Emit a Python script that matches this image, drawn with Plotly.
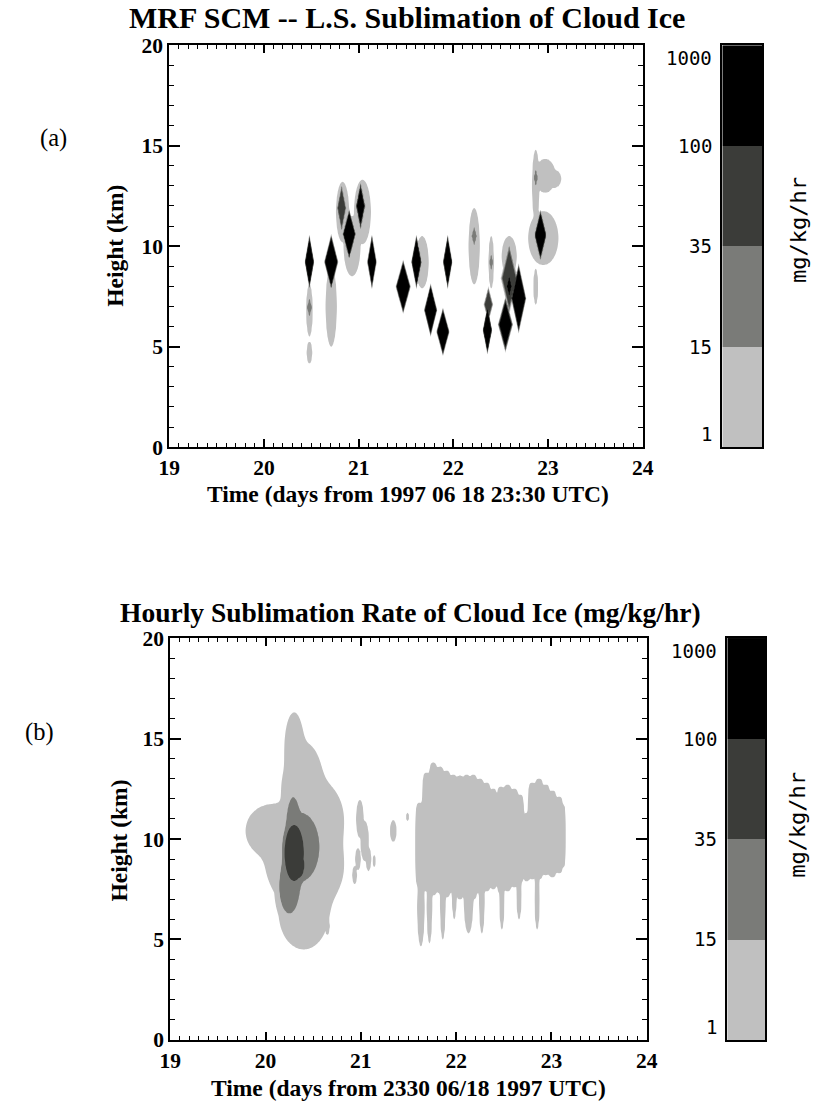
import numpy as np
import plotly.graph_objects as go

# Layout grid: positions below are given on an 816 x 1104 grid; the figure
# sits inside a page of VIEW_W x VIEW_H CSS pixels with the default 8 px margin.
REF_W, REF_H = 816, 1104
VIEW_W, VIEW_H = 834, 1128
PAGE_MARGIN = 8
TOP_SHIFT = 3
W, H = VIEW_W - 2 * PAGE_MARGIN, VIEW_H - 2 * PAGE_MARGIN
KX, KY = VIEW_W / REF_W, VIEW_H / REF_H

# Contour levels of the sublimation rate (mg/kg/hr) and the fill of each band
LEVELS = [1, 15, 35, 100, 1000]
BAND_COLORS = ["#c0c0c0", "#7a7b78", "#3b3c39", "#000000"]

X_TICKS = [19, 20, 21, 22, 23, 24]
Y_TICKS = [0, 5, 10, 15, 20]

# Each cell: (time [day], height [km], half-width [day], half-height [km], peak rate [mg/kg/hr])

# Panel (a): MRF SCM large-scale sublimation cells
CORES_A = [
    (20.48, 9.22, 0.050, 1.35, 1000),
    (20.71, 9.22, 0.075, 1.38, 1000),
    (20.90, 10.60, 0.070, 1.25, 1000),
    (21.02, 12.00, 0.050, 1.20, 300),
    (21.14, 9.22, 0.050, 1.35, 1000),
    (21.47, 7.98, 0.080, 1.35, 1000),
    (21.61, 9.22, 0.055, 1.35, 1000),
    (21.76, 6.82, 0.070, 1.33, 1000),
    (21.89, 5.74, 0.070, 1.20, 1000),
    (21.94, 9.22, 0.050, 1.35, 1000),
    (22.36, 5.82, 0.050, 1.20, 1000),
    (22.55, 6.10, 0.080, 1.40, 300),
    (22.69, 7.40, 0.080, 1.75, 1000),
    (22.92, 10.55, 0.065, 1.25, 1000),
    (20.82, 11.90, 0.050, 1.20, 80),
    (22.37, 7.10, 0.050, 0.90, 60),
    (22.59, 8.40, 0.090, 1.80, 70),
    (22.59, 8.00, 0.030, 0.55, 300),
    (20.48, 6.95, 0.030, 0.50, 30),
    (22.22, 10.50, 0.030, 0.50, 30),
    (22.40, 9.20, 0.020, 0.40, 30),
    (22.87, 13.40, 0.020, 0.45, 30),
]
HALOS_A = [
    (20.48, 6.80, 0.035, 1.30, 8),
    (20.48, 4.70, 0.030, 0.55, 8),
    (20.71, 7.00, 0.060, 2.00, 8),
    (20.83, 11.70, 0.070, 1.50, 8),
    (20.93, 10.00, 0.090, 1.50, 8),
    (21.04, 11.70, 0.090, 1.60, 8),
    (21.67, 9.20, 0.070, 1.30, 8),
    (22.22, 10.00, 0.060, 1.90, 8),
    (22.40, 9.20, 0.030, 1.30, 8),
    (22.59, 9.50, 0.080, 1.00, 8),
    (22.87, 7.98, 0.025, 0.90, 8),
    (22.87, 13.00, 0.040, 1.80, 8),
    (22.97, 13.50, 0.110, 0.85, 8),
    (23.07, 13.35, 0.070, 0.45, 8),
    (22.95, 10.40, 0.160, 1.35, 8),
]

# Panel (b): hourly sublimation rate of cloud ice
EVENT1_B = [
    (20.30, 14.60, 0.10, 1.70, 8),
    (20.40, 13.00, 0.19, 1.80, 8),
    (20.50, 11.00, 0.32, 2.00, 8),
    (20.48, 8.60, 0.34, 2.00, 8),
    (20.40, 6.30, 0.26, 1.80, 8),
    (20.05, 10.40, 0.26, 1.30, 8),
    (20.20, 9.00, 0.20, 1.70, 8),
    (20.28, 12.50, 0.10, 1.00, 8),
]
MID_B = [
    (20.37, 9.60, 0.30, 2.60, 100),
    (20.29, 11.00, 0.09, 1.60, 100),
    (20.25, 7.60, 0.16, 2.00, 100),
]
DARK_B = [
    (20.30, 9.30, 0.13, 1.80, 60),
    (20.35, 8.70, 0.07, 0.80, 60),
]
PATCHES_B = [
    (20.99, 11.00, 0.040, 0.95, 8),
    (21.04, 9.90, 0.045, 1.00, 8),
    (21.08, 9.00, 0.030, 0.60, 8),
    (20.97, 9.00, 0.030, 0.55, 8),
    (20.935, 8.20, 0.025, 0.45, 8),
    (21.14, 8.90, 0.015, 0.30, 8),
    (21.34, 10.40, 0.035, 0.55, 8),
    (21.49, 11.10, 0.015, 0.20, 8),
    (20.65, 5.65, 0.020, 0.40, 8),
]
# hourly columns of the second event
COLUMNS_B = [
    (21.62, 9.70, 0.050, 2.10, 8),
    (21.69, 10.35, 0.050, 2.95, 8),
    (21.76, 10.50, 0.050, 3.30, 8),
    (21.83, 10.45, 0.050, 3.15, 8),
    (21.90, 10.25, 0.050, 3.15, 8),
    (21.97, 10.25, 0.050, 2.95, 8),
    (22.04, 10.08, 0.050, 3.08, 8),
    (22.11, 10.20, 0.050, 3.00, 8),
    (22.18, 10.10, 0.050, 3.10, 8),
    (22.25, 10.15, 0.050, 2.85, 8),
    (22.32, 10.10, 0.050, 2.70, 8),
    (22.39, 10.00, 0.045, 2.50, 8),
    (22.47, 9.95, 0.050, 2.65, 8),
    (22.54, 10.05, 0.050, 2.65, 8),
    (22.61, 10.05, 0.050, 2.45, 8),
    (22.67, 10.00, 0.045, 2.20, 8),
    (22.74, 9.60, 0.040, 1.70, 8),
    (22.80, 10.40, 0.050, 2.40, 8),
    (22.87, 10.50, 0.050, 2.50, 8),
    (22.94, 10.45, 0.050, 2.25, 8),
    (23.01, 10.25, 0.050, 2.15, 8),
    (23.08, 10.20, 0.045, 1.90, 8),
    (23.12, 10.15, 0.030, 1.55, 8),
]
# hanging streaks below the columns
STREAKS_B = [
    (21.63, 6.58, 0.040, 1.93, 8),
    (21.72, 6.65, 0.030, 1.85, 8),
    (21.86, 6.75, 0.030, 1.75, 8),
    (21.98, 7.25, 0.025, 1.25, 8),
    (22.13, 6.90, 0.050, 1.60, 8),
    (22.27, 6.90, 0.030, 1.60, 8),
    (22.48, 7.00, 0.028, 1.50, 8),
    (22.66, 7.25, 0.028, 1.25, 8),
    (22.85, 7.00, 0.028, 1.50, 8),
]

TIME = np.round(np.arange(19.0, 24.0001, 0.01), 3)
HEIGHT = np.round(np.arange(0.0, 20.0001, 0.1), 2)
LOG_LEVELS = np.log10(LEVELS)
LIGHT_CAP = 12.0   # overlapping light cells stay inside the lowest band
MID_CAP = 30.0     # overlapping mid cells stay inside the second band
T_GRID, Z_GRID = np.meshgrid(TIME, HEIGHT)


def cell_rates(cells, shape_exp, profile_exp):
    """Rate of each cell on the grid; a cell falls to 1 mg/kg/hr at its edge."""
    for tc, zc, dt, dz, peak in cells:
        r = ((np.abs(T_GRID - tc) / dt) ** shape_exp
             + (np.abs(Z_GRID - zc) / dz) ** shape_exp) ** (1.0 / shape_exp)
        yield peak ** (1.0 - np.minimum(r, 3.0) ** profile_exp)


def summed(cells, shape_exp, profile_exp):
    return sum(cell_rates(cells, shape_exp, profile_exp))


def maxed(cells, shape_exp, profile_exp):
    return np.maximum.reduce(list(cell_rates(cells, shape_exp, profile_exp)))


def band_index(rate):
    """Map rate onto band numbers: level k of LEVELS -> k (negative below 1)."""
    logv = np.log10(np.maximum(rate, 0.1))
    idx = np.interp(logv, LOG_LEVELS, np.arange(len(LEVELS)))
    return np.round(np.where(logv < 0, logv, idx), 3)


rate_a = np.maximum(np.minimum(summed(HALOS_A, 2.0, 8), LIGHT_CAP), maxed(CORES_A, 1.0, 8))
light_b = (summed(EVENT1_B, 2.0, 2) + summed(PATCHES_B, 2.0, 8)
           + summed(COLUMNS_B, 4.0, 8) + summed(STREAKS_B, 2.0, 8))
rate_b = np.maximum.reduce([np.minimum(light_b, LIGHT_CAP),
                            np.minimum(summed(MID_B, 2.0, 2), MID_CAP),
                            maxed(DARK_B, 2.0, 8)])

field_a = band_index(rate_a)
field_b = band_index(rate_b)

colorscale = [[0.0, "#ffffff"], [0.25, BAND_COLORS[0]], [0.5, BAND_COLORS[1]],
              [0.75, BAND_COLORS[2]], [1.0, BAND_COLORS[3]]]

fig = go.Figure()
for field, xa, ya in [(field_a, "x", "y"), (field_b, "x2", "y2")]:
    fig.add_trace(go.Contour(
        x=TIME, y=HEIGHT, z=field, xaxis=xa, yaxis=ya,
        autocontour=False,
        contours=dict(start=0, end=3, size=1, coloring="fill"),
        line=dict(width=0), colorscale=colorscale, showscale=False,
        hoverinfo="skip",
    ))

# discrete colour keys
band_pos = [i + 0.5 for i in range(len(LEVELS) - 1)]
for xa, ya in [("x3", "y3"), ("x4", "y4")]:
    fig.add_trace(go.Heatmap(
        x=[0], y=band_pos, z=[[i] for i in range(len(BAND_COLORS))],
        xaxis=xa, yaxis=ya, zmin=0, zmax=len(BAND_COLORS) - 1,
        colorscale=[[0, BAND_COLORS[0]], [1 / 3, BAND_COLORS[1]],
                    [2 / 3, BAND_COLORS[2]], [1, BAND_COLORS[3]]],
        showscale=False, hoverinfo="skip",
    ))

serif = "Liberation Serif"
mono = "DejaVu Sans Mono"


def fx(px):
    """grid column -> paper fraction"""
    return (px * KX - PAGE_MARGIN) / W


def fy(py):
    """grid row -> paper fraction"""
    return 1 - (py * KY - PAGE_MARGIN - TOP_SHIFT) / H


def main_x(left, right, anchor):
    return dict(domain=[fx(left), fx(right)], anchor=anchor, range=[19, 24], tickvals=X_TICKS,
                ticks="inside", ticklen=8, tickwidth=1.5, tickcolor="black",
                minor=dict(dtick=0.1, ticks="inside", ticklen=4, tickwidth=1, tickcolor="black"),
                showline=True, linewidth=2, linecolor="black", mirror="allticks",
                showgrid=False, zeroline=False,
                tickfont=dict(family=serif, size=21.5, color="black", weight="bold"))


def main_y(top, bottom, anchor):
    return dict(domain=[fy(bottom), fy(top)], anchor=anchor, range=[0, 20], tickvals=Y_TICKS,
                ticks="inside", ticklen=11, tickwidth=1.5, tickcolor="black",
                minor=dict(dtick=1, ticks="inside", ticklen=5, tickwidth=1, tickcolor="black"),
                showline=True, linewidth=2, linecolor="black", mirror="allticks",
                showgrid=False, zeroline=False,
                tickfont=dict(family=serif, size=21.5, color="black", weight="bold"))


def key_axes(left, right, top, bottom, anchor_x, anchor_y):
    ax = dict(domain=[fx(left), fx(right)], anchor=anchor_y, range=[-0.5, 0.5],
              showticklabels=False, ticks="", showgrid=False, zeroline=False,
              showline=True, linewidth=1.5, linecolor="black", mirror=True)
    ay = dict(domain=[fy(bottom), fy(top)], anchor=anchor_x, range=[0, len(LEVELS) - 1],
              showticklabels=False, ticks="", showgrid=False, zeroline=False,
              showline=True, linewidth=1.5, linecolor="black", mirror=True)
    return ax, ay


ax3, ay3 = key_axes(723, 763, 45, 447, "x3", "y3")
ax4, ay4 = key_axes(728, 766, 638, 1040, "x4", "y4")

fig.update_layout(
    width=W, height=H, autosize=False,
    margin=dict(l=0, r=0, t=0, b=0, pad=0),
    paper_bgcolor="white", plot_bgcolor="white",
    showlegend=False,
    xaxis=main_x(167, 643, "y"),
    yaxis=main_y(45, 447, "x"),
    xaxis2=main_x(168, 647, "y2"),
    yaxis2=main_y(638, 1040, "x2"),
    xaxis3=ax3, yaxis3=ay3, xaxis4=ax4, yaxis4=ay4,
)

ann = []


def text(x, y, s, size, bold=True, family=serif, angle=0):
    ann.append(dict(x=fx(x), y=fy(y), xref="paper", yref="paper", text=s,
                    xanchor="center", yanchor="middle",
                    showarrow=False, textangle=angle,
                    font=dict(family=family, size=size, color="black",
                              weight="bold" if bold else "normal")))


text(406, 17, "MRF SCM -- L.S. Sublimation of Cloud Ice", 30)
text(410, 612, "Hourly Sublimation Rate of Cloud Ice (mg/kg/hr)", 27.5)
text(407, 494, "Time (days from 1997 06 18 23:30 UTC)", 23.5)
text(408, 1088, "Time (days from 2330 06/18 1997 UTC)", 23.5)
text(113, 246, "Height (km)", 23.5, angle=-90)
text(116, 841, "Height (km)", 23.5, angle=-90)
text(51, 138, "(a)", 24.5, bold=False)
text(36, 732, "(b)", 24.5, bold=False)
text(799, 230, "mg/kg/hr", 22, bold=False, family=mono, angle=-90)
text(799, 825, "mg/kg/hr", 22, bold=False, family=mono, angle=-90)

# level labels of the colour keys
for ya, right in [("y3", 715), ("y4", 720)]:
    for i, lev in enumerate(LEVELS):
        anchor = "top" if i == len(LEVELS) - 1 else ("bottom" if i == 0 else "middle")
        ann.append(dict(x=fx(right), xref="paper", xanchor="right",
                        y=i, yref=ya, yanchor=anchor, text=str(lev), showarrow=False,
                        font=dict(family=mono, size=19, color="black")))

fig.update_layout(annotations=ann)
fig.write_html("out.html")
